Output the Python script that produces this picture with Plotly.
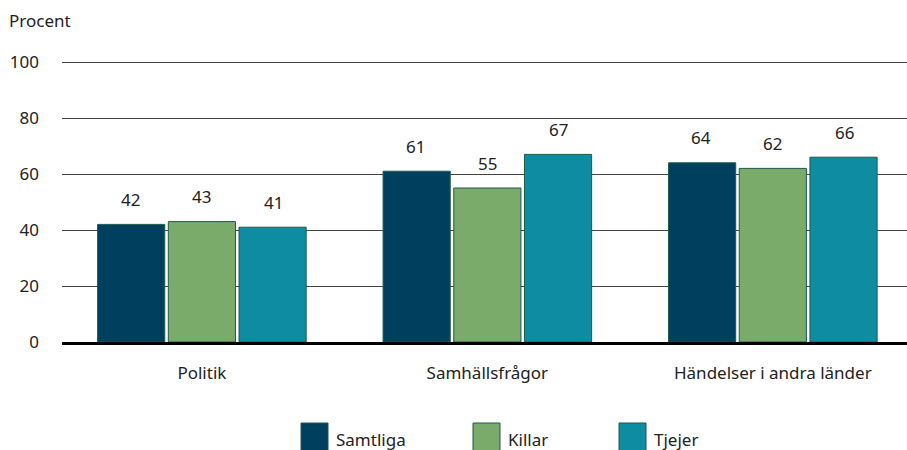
import plotly.graph_objects as go

categories = ["Politik", "Samhällsfrågor", "Händelser i andra länder"]
series_names = ["Samtliga", "Killar", "Tjejer"]
samtliga = [42, 61, 64]
killar = [43, 55, 62]
tjejer = [41, 67, 66]
y_ticks = [0, 20, 40, 60, 80, 100]

colors = ["#00405f", "#7aab6b", "#0d8ca2"]
outline = "#1f5a4c"
font = "Noto Sans"
fsize = 17

W, H = 907, 450
L, R, T, B = 62, 0, 56, 108
y_top = (H - T - B) / 2.8  # 2.8 px per percent, leaves room for the 100 gridline


def px_x(x):
    return (x - L) / (W - L - R)


def px_y(y):
    return (H - B - y) / (H - T - B)


fig = go.Figure()
values = [samtliga, killar, tjejer]
for name, vals, col in zip(series_names, values, colors):
    fig.add_trace(go.Bar(x=categories, y=vals, name=name, marker_color=col,
                         marker_line=dict(color=outline, width=1),
                         showlegend=False))

# value labels above the bars
for i, vals in enumerate(values):
    for cat, v in zip(categories, vals):
        fig.add_annotation(x=cat, y=v, text=str(v), showarrow=False,
                           xshift=(i - 1) * 71.5, yshift=25,
                           font=dict(family=font, size=fsize, color="#222"))

# legend with big squares
legend_x = [301, 473, 619]
for name, col, lx in zip(series_names, colors, legend_x):
    fig.add_shape(type="rect", xref="paper", yref="paper",
                  x0=px_x(lx), x1=px_x(lx + 27), y0=px_y(451), y1=px_y(423),
                  fillcolor=col, line=dict(color=outline, width=1))
    fig.add_annotation(xref="paper", yref="paper", x=px_x(lx + 33), y=px_y(439),
                       text=name, showarrow=False, xanchor="left", yanchor="middle",
                       font=dict(family=font, size=fsize, color="#222"))

fig.add_annotation(xref="paper", yref="paper", x=px_x(7), y=px_y(20),
                   text="Procent", showarrow=False, xanchor="left", yanchor="middle",
                   font=dict(family=font, size=fsize, color="#222"))

fig.update_layout(
    width=W, height=H,
    margin=dict(l=L, r=R, t=T, b=B),
    plot_bgcolor="white", paper_bgcolor="white",
    barmode="group", bargap=0.257, bargroupgap=0.05,
    font=dict(family=font, size=fsize, color="#222"),
)
fig.update_xaxes(range=[-0.49, 2.47], showline=True, linecolor="black", linewidth=3,
                 ticks="", ticklabelstandoff=14, tickfont=dict(size=fsize))
fig.update_yaxes(range=[0, y_top], tickvals=y_ticks, showgrid=True, gridcolor="#444",
                 gridwidth=1, zeroline=False, ticks="", ticklabelstandoff=22,
                 tickfont=dict(size=fsize))

fig.write_html("out.html", post_script="document.body.style.margin='0';",
               config={"displayModeBar": False})
